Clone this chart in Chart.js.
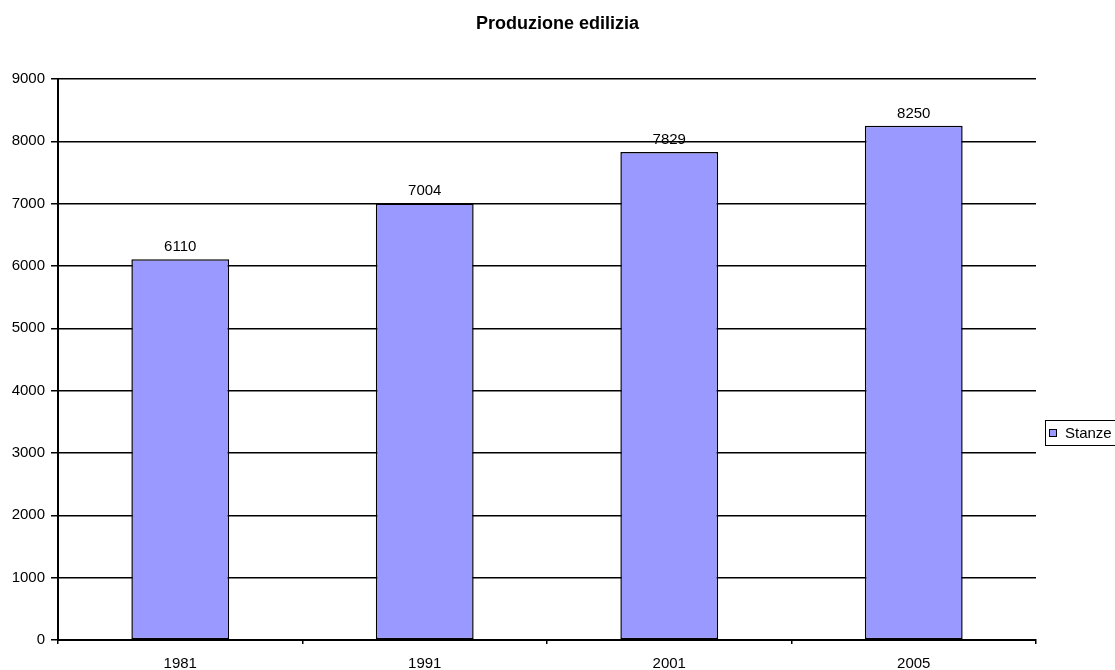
<!DOCTYPE html>
<html>
<head>
<meta charset="utf-8">
<title>Produzione edilizia</title>
<script src="https://cdn.jsdelivr.net/npm/chart.js@4/dist/chart.umd.min.js"></script>
<style>
    body { margin: 0; background: #fff; }
    #chart { display: block; }
</style>
</head>
<body>
<canvas id="chart" width="1115" height="670"></canvas>
<script>
// dati
var anni = ["1981", "1991", "2001", "2005"];
var stanze = [6110, 7004, 7829, 8250];
var serieLabel = "Stanze";
var titolo = "Produzione edilizia";

var FONT = "'Liberation Sans', Arial, sans-serif";
var BAR_COLOR = "#9999ff";

// titolo centrato su tutta la pagina (non solo sull'area del grafico)
var titoloPlugin = {
    id: "titolo",
    afterDraw: function (chart) {
        let ctx = chart.ctx;
        ctx.save();
        ctx.font = "bold 18px " + FONT;
        ctx.fillStyle = "#000";
        ctx.textAlign = "center";
        ctx.textBaseline = "alphabetic";
        ctx.fillText(titolo, chart.width / 2, 29);
        ctx.restore();
    }
};

// numeri sopra le barre
var valoriPlugin = {
    id: "valori",
    afterDatasetsDraw: function (chart) {
        let ctx = chart.ctx;
        let meta = chart.getDatasetMeta(0);
        ctx.save();
        ctx.font = "15px " + FONT;
        ctx.fillStyle = "#000";
        ctx.textAlign = "center";
        ctx.textBaseline = "alphabetic";
        meta.data.forEach(function (bar, i) {
            ctx.fillText(chart.data.datasets[0].data[i], bar.x, bar.y - 8);
        });
        ctx.restore();
    }
};

// legenda a destra con il riquadro
var legendaPlugin = {
    id: "legenda",
    afterDraw: function (chart) {
        let ctx = chart.ctx;
        let ds = chart.data.datasets[0];
        ctx.save();
        ctx.strokeStyle = "#000";
        ctx.lineWidth = 1;
        ctx.strokeRect(1045.5, 420.5, 90, 25);
        ctx.fillStyle = ds.backgroundColor;
        ctx.fillRect(1049.5, 429.5, 7, 7);
        ctx.strokeRect(1049.5, 429.5, 7, 7);
        ctx.font = "15px " + FONT;
        ctx.fillStyle = "#000";
        ctx.textBaseline = "alphabetic";
        ctx.fillText(ds.label, 1065, 438);
        ctx.restore();
    }
};

var myChart = new Chart(document.getElementById("chart").getContext("2d"), {
    type: "bar",
    data: {
        labels: anni,
        datasets: [
            {
                label: serieLabel,
                data: stanze,
                backgroundColor: BAR_COLOR,
                borderColor: "#000",
                borderWidth: 1.5,
                borderSkipped: false,
                barPercentage: 0.4,
                categoryPercentage: 1
            }
        ]
    },
    options: {
        responsive: false,
        animation: false,
        layout: {
            padding: { left: 0, right: 79, top: 79, bottom: 0 }
        },
        plugins: {
            legend: { display: false },
            tooltip: { enabled: false },
            title: { display: false }
        },
        scales: {
            x: {
                grid: {
                    offset: true,
                    drawOnChartArea: false,
                    color: "#000",
                    lineWidth: 1.5,
                    tickLength: 4
                },
                border: { color: "#000", width: 2 },
                ticks: {
                    color: "#000",
                    padding: 11,
                    maxRotation: 0,
                    font: { family: FONT, size: 15 }
                },
                afterFit: function (s) { s.height = 30; }
            },
            y: {
                min: 0,
                max: 9000,
                ticks: {
                    stepSize: 1000,
                    color: "#000",
                    padding: 6,
                    font: { family: FONT, size: 15 },
                    callback: function (v) { return String(v); }
                },
                grid: {
                    color: "#000",
                    lineWidth: 1.5,
                    tickLength: 7
                },
                border: { color: "#000", width: 2 },
                afterFit: function (s) { s.width = 58; }
            }
        }
    },
    plugins: [titoloPlugin, valoriPlugin, legendaPlugin]
});
</script>
</body>
</html>
